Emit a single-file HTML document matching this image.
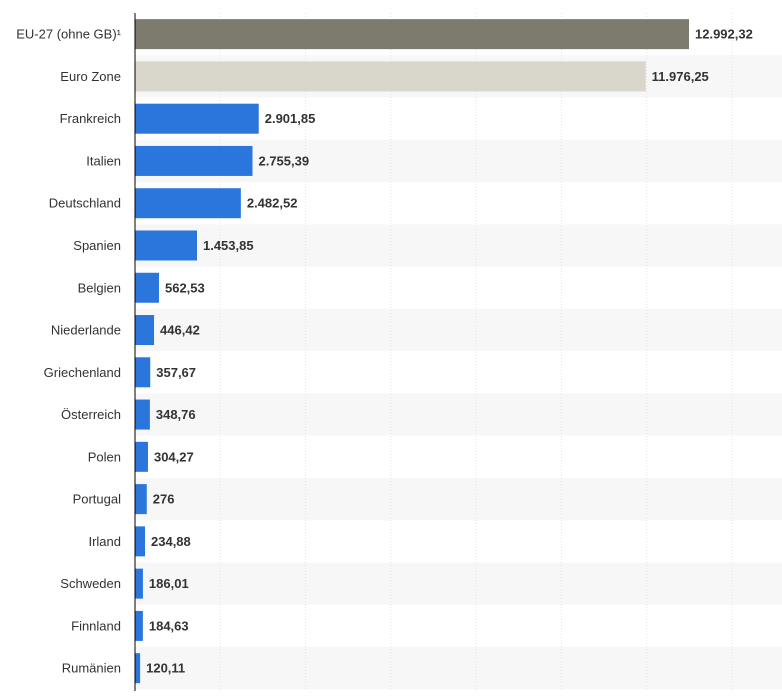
<!DOCTYPE html>
<html><head><meta charset="utf-8"><style>
body{margin:0;background:#fff;font-family:"Liberation Sans","DejaVu Sans",sans-serif}
</style></head><body>
<svg id="chart" width="782" height="693" xmlns="http://www.w3.org/2000/svg"></svg>
<script>
const categories=["EU-27 (ohne GB)¹","Euro Zone","Frankreich","Italien","Deutschland","Spanien","Belgien","Niederlande","Griechenland","Österreich","Polen","Portugal","Irland","Schweden","Finnland","Rumänien"];
const values=[12992.32,11976.25,2901.85,2755.39,2482.52,1453.85,562.53,446.42,357.67,348.76,304.27,276,234.88,186.01,184.63,120.11];
const valueLabels=["12.992,32","11.976,25","2.901,85","2.755,39","2.482,52","1.453,85","562,53","446,42","357,67","348,76","304,27","276","234,88","186,01","184,63","120,11"];
const gridTicks=[0,2000,4000,6000,8000,10000,12000,14000];
const svg=document.getElementById('chart');
const NS="http://www.w3.org/2000/svg";
const x0=135,pxPer=554/12992.32,topY=13,rowH=42.27,barH=30;
const xs=v=>x0+v*pxPer;
function mk(t,a){const e=document.createElementNS(NS,t);for(const k in a)e.setAttribute(k,a[k]);svg.appendChild(e);return e;}
categories.forEach((c,i)=>{if(i%2===1){const r=mk('rect',{x:x0,y:topY+i*rowH,width:782-x0,height:rowH,fill:'#f7f7f7'});

}});
gridTicks.forEach(t=>{const l=mk('line',{x1:xs(t),x2:xs(t),y1:topY,y2:690,stroke:'#e3e3e3','stroke-dasharray':'1,2'});

});
categories.forEach((c,i)=>{
const cy=topY+i*rowH+rowH/2;
const col=i===0?'#7d7a6e':i===1?'#d9d6cc':'#2a76dd';
const b=mk('rect',{x:x0,y:cy-barH/2,width:xs(values[i])-x0,height:barH,fill:col});


const lb=mk('text',{x:121,y:cy+4.5,'text-anchor':'end','font-size':'13',fill:'#333'});lb.textContent=c;


const vl=mk('text',{x:xs(values[i])+6,y:cy+4.5,'font-size':'13','font-weight':'bold',fill:'#333'});vl.textContent=valueLabels[i];


});
const ax=mk('line',{x1:x0,x2:x0,y1:topY,y2:691,stroke:'#000','stroke-width':1});


</script>
</body></html>
